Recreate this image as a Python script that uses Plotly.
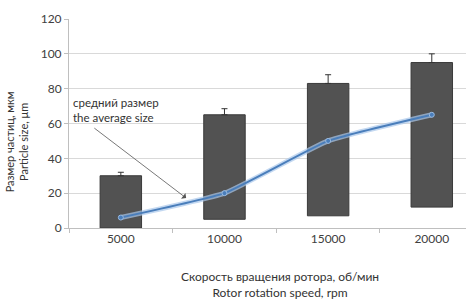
import plotly.graph_objects as go

categories = ["5000", "10000", "15000", "20000"]
size_min = [0, 5, 7, 12]
size_max = [30, 65, 83, 95]
err_plus = [2, 3.5, 5, 5]
avg_size = [6, 20, 50, 65]
y_ticks = [0, 20, 40, 60, 80, 100, 120]

FONT = "Lato"
TXT = "#404040"

fig = go.Figure()

fig.add_trace(go.Bar(
    x=categories,
    y=[mx - mn for mx, mn in zip(size_max, size_min)],
    base=size_min,
    width=0.4,
    marker=dict(color="#525252", line=dict(color="#3a3a3a", width=1)),
    showlegend=False,
))

fig.add_trace(go.Scatter(
    x=categories, y=size_max, mode="markers",
    marker=dict(opacity=0, size=1),
    error_y=dict(type="data", array=err_plus, arrayminus=[0]*4,
                 color="#333333", thickness=1, width=3),
    showlegend=False,
))

fig.add_trace(go.Scatter(
    x=categories, y=avg_size, mode="lines",
    line=dict(color="rgba(170,200,235,0.7)", width=5, shape="spline", smoothing=0.4),
    showlegend=False, hoverinfo="skip",
))
fig.add_trace(go.Scatter(
    x=categories, y=avg_size, mode="lines+markers",
    line=dict(color="#4a7ebb", width=2, shape="spline", smoothing=0.4),
    marker=dict(color="#4a7ebb", size=5, line=dict(color="#9bbbe0", width=1)),
    showlegend=False,
))

fig.update_layout(
    width=466, height=302,
    margin=dict(l=69, r=0, t=19, b=74),
    paper_bgcolor="white", plot_bgcolor="white",
    font=dict(family=FONT, size=12, color=TXT),
    xaxis=dict(
        type="category", range=[-0.5, 3.33],
        showgrid=False, showline=True, linecolor="#bfbfbf", linewidth=1,
        ticks="outside", tickson="boundaries", ticklen=4, tickcolor="#bfbfbf",
        tickfont=dict(size=12, color=TXT),
    ),
    yaxis=dict(
        range=[0, 120], tickvals=y_ticks, ticktext=[str(v) for v in y_ticks],
        showgrid=True, gridcolor="#d9d9d9", gridwidth=1,
        showline=True, linecolor="#bfbfbf", linewidth=1,
        ticks="outside", ticklen=4, tickcolor="#bfbfbf",
        tickfont=dict(size=12, color=TXT), zeroline=False,
    ),
    annotations=[
        dict(text="средний размер<br>the average size", xref="x", yref="y",
             x=-0.48, y=67.5, xanchor="left", yanchor="middle", align="left",
             showarrow=False, font=dict(size=11.5, color="#333333")),
        dict(text="", xref="x", yref="y", x=0.63, y=17.2,
             axref="x", ayref="y", ax=-0.27, ay=58,
             showarrow=True, arrowhead=1, arrowsize=1.5, arrowwidth=0.8,
             arrowcolor="#555555"),
        dict(text="Скорость вращения ротора, об/мин<br>Rotor rotation speed, rpm",
             xref="paper", yref="paper", x=(280 - 69) / 397, y=-(284 - 228) / 209,
             xanchor="center", yanchor="middle", showarrow=False,
             font=dict(size=12, color="#333333")),
        dict(text="Размер частиц, мкм<br>Particle size, μm",
             xref="paper", yref="paper", x=-(69 - 16) / 397, y=0.41,
             xanchor="center", yanchor="middle", textangle=-90, showarrow=False,
             font=dict(size=11, color="#333333")),
    ],
)

fig.write_html("out.html", config={"displayModeBar": False},
               post_script="document.body.style.margin='0';")
